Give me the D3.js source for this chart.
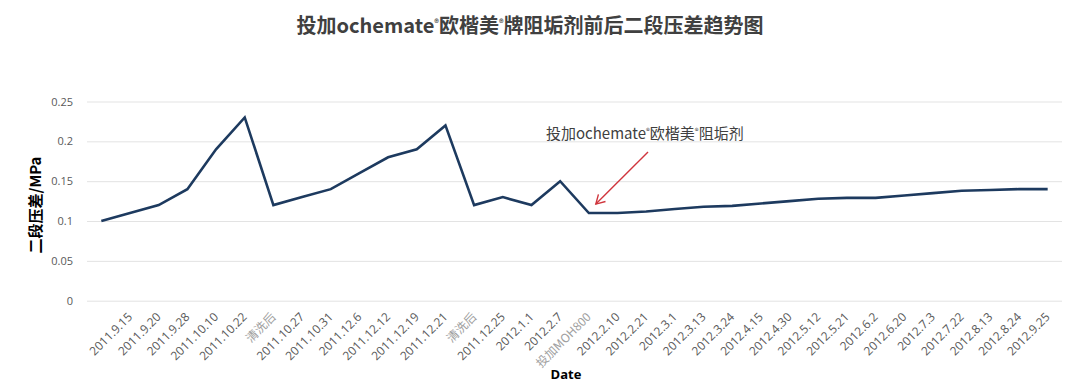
<!DOCTYPE html>
<html>
<head>
<meta charset="utf-8">
<script src="https://cdn.jsdelivr.net/npm/d3@7"></script>
<style>
  html, body { margin: 0; padding: 0; background: #fff; }
  svg { display: block; }
</style>
</head>
<body>
<svg id="chart" width="1080" height="383"></svg>
<script>
// ---- data ----
const categories = ["", "2011.9.15", "2011.9.20", "2011.9.28", "2011.10.10", "2011.10.22", "清洗后",
  "2011.10.27", "2011.10.31", "2011.12.6", "2011.12.12", "2011.12.19", "2011.12.21", "清洗后",
  "2011.12.25", "2012.1.1", "2012.2.7", "投加MOH800", "2012.2.10", "2012.2.21", "2012.3.1",
  "2012.3.13", "2012.3.24", "2012.4.15", "2012.4.30", "2012.5.12", "2012.5.21", "2012.6.2",
  "2012.6.20", "2012.7.3", "2012.7.22", "2012.8.13", "2012.8.24", "2012.9.25"];
const pressureDiff = [0.10, 0.11, 0.12, 0.14, 0.19, 0.23, 0.12,
  0.13, 0.14, 0.16, 0.18, 0.19, 0.22, 0.12,
  0.13, 0.12, 0.15, 0.11, 0.11, 0.112, 0.115,
  0.118, 0.119, 0.122, 0.125, 0.128, 0.129, 0.129,
  0.132, 0.135, 0.138, 0.139, 0.14, 0.14];
const yTicks = [0, 0.05, 0.1, 0.15, 0.2, 0.25];
const specialLabels = ["清洗后", "投加MOH800"];
const titleText = "投加ochemate®欧楷美®牌阻垢剂前后二段压差趋势图";
const annotationIndex = 17;

// ---- layout ----
const svg = d3.select("#chart");
const plotLeft = 87, plotRight = 1062, plotTop = 101.5, plotBottom = 300.7;
const keys = categories.map((c, i) => i);

const x = d3.scaleBand().domain(keys).range([plotLeft, plotRight]).padding(0);
const y = d3.scaleLinear().domain([0, 0.25]).range([plotBottom, plotTop]);
const cx = i => x(i) + x.bandwidth() / 2;

const tickFont = "'Open Sans', 'Noto Sans CJK SC', sans-serif";
const cjkFont = "'Noto Sans CJK SC', sans-serif";

// y axis + gridlines
const yAxis = svg.append("g")
  .attr("transform", `translate(${plotLeft},0)`)
  .call(d3.axisLeft(y).tickValues(yTicks).tickSize(-(plotRight - plotLeft)).tickPadding(14)
    .tickFormat(d => String(+d.toFixed(2))));
yAxis.select(".domain").remove();
yAxis.selectAll(".tick line").attr("stroke", "#e3e3e3").attr("stroke-width", 1);
yAxis.selectAll(".tick text")
  .attr("fill", "#595959").style("font-family", tickFont).style("font-size", "11px");

// x axis labels
const xAxis = svg.append("g")
  .attr("transform", `translate(0,${plotBottom})`)
  .call(d3.axisBottom(x).tickSize(0).tickFormat(i => categories[i]));
xAxis.select(".domain").remove();
xAxis.selectAll(".tick text")
  .attr("text-anchor", "end")
  .attr("dy", 0)
  .attr("y", 0)
  .attr("transform", "translate(3,17) rotate(-45)")
  .attr("fill", i => specialLabels.includes(categories[i]) ? "#a0a0a0" : "#595959")
  .style("font-family", i => specialLabels.includes(categories[i]) ? cjkFont : tickFont)
  .style("font-size", "12px");

// line
const line = d3.line().x((d, i) => cx(i)).y(d => y(d));
svg.append("path")
  .datum(pressureDiff)
  .attr("d", line)
  .attr("fill", "none")
  .attr("stroke", "#1d3a5f")
  .attr("stroke-width", 2.6)
  .attr("stroke-linejoin", "miter");

// title
const title = svg.append("text")
  .attr("x", 530).attr("y", 33)
  .attr("text-anchor", "middle")
  .attr("fill", "#404040")
  .style("font-family", cjkFont)
  .style("font-size", "20px")
  .style("font-weight", "bold");
function addWithSup(sel, txt, supSize) {
  txt.split("®").forEach((part, k, arr) => {
    sel.append("tspan").text(part);
    if (k < arr.length - 1) {
      sel.append("tspan").attr("baseline-shift", "super").style("font-size", supSize).text("®");
    }
  });
}
addWithSup(title, titleText, "9px");

// axis titles
svg.append("text")
  .attr("transform", "translate(41,205) rotate(-90)")
  .attr("text-anchor", "middle")
  .attr("fill", "#000")
  .style("font-family", cjkFont)
  .style("font-size", "15px")
  .style("font-weight", "bold")
  .text("二段压差/MPa");

svg.append("text")
  .attr("x", 566).attr("y", 379)
  .attr("text-anchor", "middle")
  .attr("fill", "#000")
  .style("font-family", tickFont)
  .style("font-size", "13px")
  .style("font-weight", "bold")
  .text("Date");

// annotation
const ann = svg.append("text")
  .attr("x", 546).attr("y", 139)
  .attr("fill", "#404040")
  .style("font-family", cjkFont)
  .style("font-size", "15px");
addWithSup(ann, "投加ochemate®欧楷美®阻垢剂", "8px");

const ax = cx(annotationIndex) + 7, ay = y(pressureDiff[annotationIndex]) - 9;
const sx = 648, sy = 152;
svg.append("line")
  .attr("x1", sx).attr("y1", sy).attr("x2", ax).attr("y2", ay)
  .attr("stroke", "#d0353d").attr("stroke-width", 1.4);
const ang = Math.atan2(ay - sy, ax - sx);
const hl = 10, ha = Math.PI / 6;
svg.append("path")
  .attr("d", `M${ax - hl * Math.cos(ang - ha)},${ay - hl * Math.sin(ang - ha)} L${ax},${ay} L${ax - hl * Math.cos(ang + ha)},${ay - hl * Math.sin(ang + ha)}`)
  .attr("fill", "none").attr("stroke", "#d0353d").attr("stroke-width", 1.4);
</script>
</body>
</html>
